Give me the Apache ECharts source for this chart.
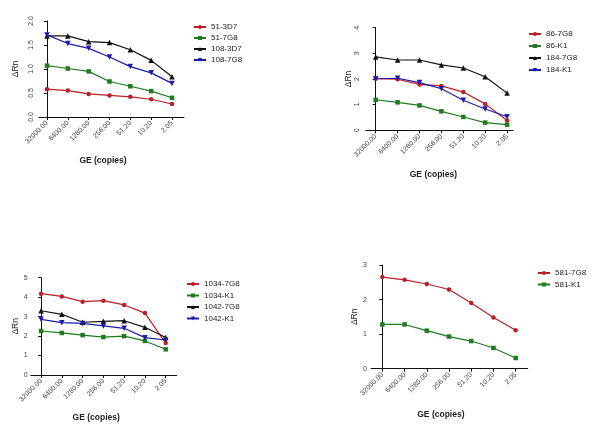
<!DOCTYPE html>
<html><head><meta charset="utf-8">
<script src="https://cdn.jsdelivr.net/npm/echarts@6/dist/echarts.min.js"></script>
<style>html,body{margin:0;padding:0;background:#fff}#c{width:600px;height:427px}</style>
</head><body><div id="c"></div>
<script>
var categories = ["32000.00","6400.00","1280.00","256.00","51.20","10.20","2.05"];

var p1Names = ["51-3D7","51-7G8","108-3D7","108-7G8"];
var s51_3D7  = [0.58,0.55,0.48,0.45,0.42,0.37,0.27];
var s51_7G8  = [1.07,1.01,0.95,0.74,0.64,0.54,0.40];
var s108_3D7 = [1.69,1.69,1.57,1.55,1.40,1.18,0.84];
var s108_7G8 = [1.71,1.53,1.43,1.25,1.05,0.92,0.70];

var p2Names = ["86-7G8","86-K1","184-7G8","184-K1"];
var s86_7G8  = [2.01,1.99,1.79,1.73,1.49,1.03,0.38];
var s86_K1   = [1.19,1.09,0.97,0.74,0.52,0.30,0.22];
var s184_7G8 = [2.86,2.74,2.74,2.55,2.43,2.09,1.45];
var s184_K1  = [2.01,2.03,1.86,1.62,1.17,0.83,0.53];

var p3Names = ["1034-7G8","1034-K1","1042-7G8","1042-K1"];
var s1034_7G8 = [4.18,4.04,3.77,3.82,3.60,3.18,1.64];
var s1034_K1  = [2.26,2.16,2.05,1.95,2.00,1.75,1.32];
var s1042_7G8 = [3.30,3.12,2.71,2.76,2.79,2.45,1.93];
var s1042_K1  = [2.86,2.69,2.65,2.52,2.40,1.92,1.80];

var p4Names = ["581-7G8","581-K1"];
var s581_7G8 = [2.65,2.57,2.45,2.29,1.90,1.48,1.11];
var s581_K1  = [1.28,1.28,1.10,0.93,0.80,0.60,0.31];

var xTitle = "GE (copies)";
var yTitle = "\u0394Rn";

var colors = ["#b8202a","#1e7b1e","#111111","#1c1ca8"];
var symbols = ["circle","rect","triangle","triangle"];
var rotates = [0,0,0,180];

var FONT = "Liberation Sans, Arial, sans-serif";

var panels = [
  {names:p1Names, data:[s51_3D7,s51_7G8,s108_3D7,s108_7G8], left:39, right:184, top:21, bottom:117,
   xmin:-0.384, xmax:6.576, ymax:2, yint:0.5, dec:1, yrot:90, ymargin:4, ynameGap:19,
   xpad:17, xnameGap:39, legLeft:193, legTop:23, legGap:3},
  {names:p2Names, data:[s86_7G8,s86_K1,s184_7G8,s184_K1], left:365.7, right:513, top:27.7, bottom:130.3,
   xmin:-0.457, xmax:6.27, ymax:4, yint:1, dec:0, yrot:90, ymargin:5, ynameGap:13,
   xpad:12, xnameGap:40, legLeft:528, legTop:30, legGap:4},
  {names:p3Names, data:[s1034_7G8,s1034_K1,s1042_7G8,s1042_K1], left:30.7, right:176.7, top:277.7, bottom:375,
   xmin:-0.5, xmax:6.53, ymax:5, yint:1, dec:0, yrot:0, ymargin:3, ynameGap:7,
   xpad:15, xnameGap:38, legLeft:186, legTop:280, legGap:3.5},
  {names:p4Names, data:[s581_7G8,s581_K1], left:371, right:527.7, top:265, bottom:368.7,
   xmin:-0.51, xmax:6.54, ymax:3, yint:1, dec:0, yrot:0, ymargin:4, ynameGap:10,
   xpad:17, xnameGap:41, legLeft:537, legTop:269, legGap:3.5}
];

var idx = categories.map(function(c,i){return i;});
var grid=[], xAxis=[], yAxis=[], series=[], legend=[];
panels.forEach(function(p, k){
  grid.push({left:p.left, top:p.top, width:p.right-p.left, height:p.bottom-p.top, containLabel:false});
  xAxis.push({type:'value', gridIndex:k, min:p.xmin, max:p.xmax,
    name:xTitle, nameLocation:'middle', nameGap:p.xnameGap,
    nameTextStyle:{fontFamily:FONT, fontSize:8.5, fontWeight:'bold', color:'#222', padding:[0,p.xpad,0,0]},
    axisLine:{show:true, lineStyle:{color:'#111', width:1}},
    axisTick:{show:true, length:3, customValues:idx, lineStyle:{color:'#111'}},
    axisLabel:{customValues:idx, rotate:45, margin:5, fontFamily:FONT, fontSize:7, color:'#444',
      formatter:function(v){return categories[Math.round(v)];}},
    splitLine:{show:false}});
  yAxis.push({type:'value', gridIndex:k, min:0, max:p.ymax, interval:p.yint,
    name:yTitle, nameLocation:'middle', nameGap:p.ynameGap,
    nameTextStyle:{fontFamily:FONT, fontSize:8.5, color:'#222'},
    axisLine:{show:true, lineStyle:{color:'#111', width:1}},
    axisTick:{show:true, length:3, lineStyle:{color:'#111'}},
    axisLabel:{rotate:p.yrot, margin:p.ymargin, fontFamily:FONT, fontSize:7, color:'#444',
      formatter:function(v){return v.toFixed(p.dec);}},
    splitLine:{show:false}});
  p.names.forEach(function(n, j){
    series.push({type:'line', name:n, xAxisIndex:k, yAxisIndex:k,
      data:p.data[j].map(function(v,i){return [i,v];}),
      symbol:symbols[j], symbolRotate:rotates[j], symbolSize:j>=2?5.5:4.5,
      itemStyle:{color:colors[j]}, lineStyle:{color:colors[j], width:1.2}, animation:false});
  });
  legend.push({data:p.names, orient:'vertical', left:p.legLeft, top:p.legTop, padding:0, itemWidth:12, itemHeight:5,
    itemGap:p.legGap, textStyle:{fontFamily:FONT, fontSize:8, color:'#222'}});
});

var chart = echarts.init(document.getElementById('c'), null, {renderer:'canvas'});
chart.setOption({animation:false, backgroundColor:'#fff', grid:grid, xAxis:xAxis, yAxis:yAxis, series:series, legend:legend});
</script></body></html>
